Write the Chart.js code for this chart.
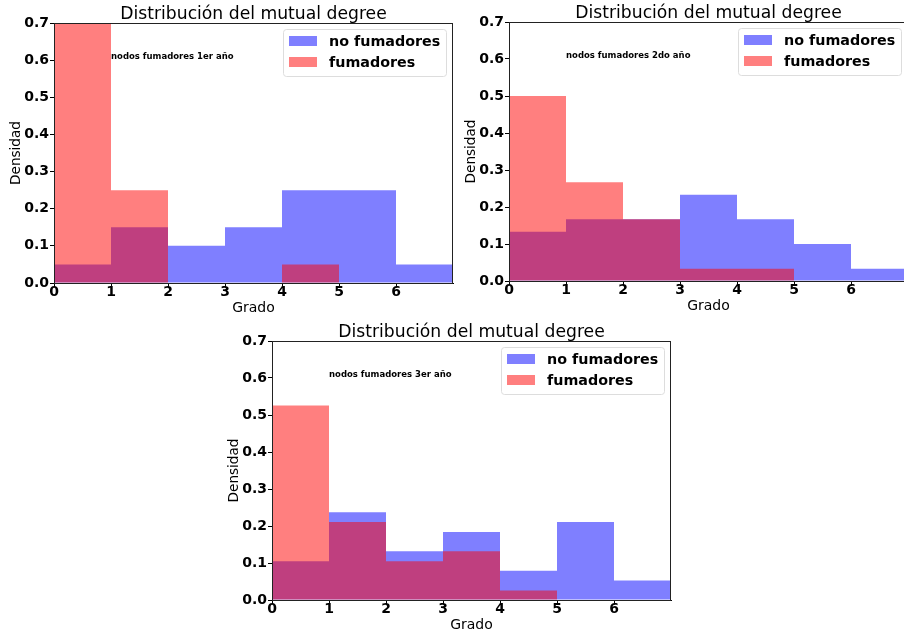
<!DOCTYPE html>
<html>
<head>
<meta charset="utf-8">
<title>Distribución del mutual degree</title>
<script src="https://cdn.jsdelivr.net/npm/chart.js"></script>
<style>
  body { margin: 0; background: #fff; overflow: hidden; width: 904px; height: 634px; position: relative; }
  canvas { position: absolute; }
  #c1 { left: 0; top: 0; }
  #c2 { left: 455px; top: 0; }
  #c3 { left: 218px; top: 318px; }
</style>
</head>
<body>
<canvas id="c1" width="460" height="318"></canvas>
<canvas id="c2" width="460" height="318"></canvas>
<canvas id="c3" width="460" height="316"></canvas>

<script>
// bins de grado (0-1, 1-2, ... 6-7)
const bins = ['0', '1', '2', '3', '4', '5', '6'];

// 1er año
const noFum1 = [0.05, 0.15, 0.10, 0.15, 0.25, 0.25, 0.05];
const fum1   = [0.70, 0.25, 0, 0, 0.05, 0, 0];
// 2do año
const noFum2 = [0.133, 0.167, 0.167, 0.233, 0.167, 0.10, 0.033];
const fum2   = [0.50, 0.267, 0.167, 0.033, 0.033, 0, 0];
// 3er año
const noFum3 = [0.105, 0.237, 0.132, 0.184, 0.079, 0.211, 0.053];
const fum3   = [0.526, 0.211, 0.105, 0.132, 0.026, 0, 0];

const title = 'Distribución del mutual degree';
const notes = ['nodos fumadores 1er año', 'nodos fumadores 2do año', 'nodos fumadores 3er año'];

Chart.defaults.font.family = 'DejaVu Sans';
Chart.defaults.color = '#000';

// titulo, etiquetas de ejes, marco, leyenda y nota dibujados a mano
const extras = {
  id: 'extras',
  afterDraw(chart, args, opts) {
    const ctx = chart.ctx;
    const a = chart.chartArea;
    ctx.save();
    // marco
    ctx.strokeStyle = '#222';
    ctx.lineWidth = 1;
    ctx.strokeRect(a.left + 0.5, a.top + 0.5, a.right - a.left - 1, a.bottom - a.top);

    // titulo
    ctx.fillStyle = '#000';
    ctx.font = '17.2px "DejaVu Sans"';
    ctx.textAlign = 'center';
    ctx.textBaseline = 'alphabetic';
    ctx.fillText(title, (a.left + a.right) / 2, a.top - 4);

    // ejes
    ctx.font = '14px "DejaVu Sans"';
    ctx.textBaseline = 'middle';
    ctx.fillText('Grado', (a.left + a.right) / 2, a.bottom + 25);
    ctx.save();
    ctx.translate(16, (a.top + a.bottom) / 2);
    ctx.rotate(-Math.PI / 2);
    ctx.font = '13.6px "DejaVu Sans"';
    ctx.fillText('Densidad', 0, 0);
    ctx.restore();

    // nota
    const xs = chart.scales.x2, ys = chart.scales.y;
    ctx.font = 'bold 8.5px "DejaVu Sans"';
    ctx.textAlign = 'left';
    ctx.fillText(opts.note, xs.getPixelForValue(1), ys.getPixelForValue(0.61));

    // leyenda
    const bw = 163, bh = 47;
    const bx = a.right - 7 - bw, by = a.top + 6;
    ctx.fillStyle = 'rgba(255,255,255,0.8)';
    ctx.strokeStyle = '#ddd';
    ctx.beginPath();
    ctx.roundRect(bx + 0.5, by + 0.5, bw, bh, 3);
    ctx.fill();
    ctx.stroke();
    ctx.font = 'bold 14.3px "DejaVu Sans"';
    chart.data.datasets.forEach((ds, i) => {
      const cy = by + 12 + i * 21;
      ctx.fillStyle = ds.backgroundColor;
      ctx.fillRect(bx + 6, cy - 5, 28, 10);
      ctx.fillStyle = '#000';
      ctx.fillText(ds.label, bx + 46, cy + 1);
    });
    ctx.restore();
  }
};

function makeChart(id, noFum, fum, note, padTop, padRight, xAxisH) {
  return new Chart(document.getElementById(id), {
    type: 'bar',
    data: {
      labels: bins,
      datasets: [
        { label: 'no fumadores', data: noFum, backgroundColor: 'rgba(0,0,255,0.5)', order: 1,
          grouped: false, barPercentage: 1, categoryPercentage: 1, borderWidth: 0, inflateAmount: 0 },
        { label: 'fumadores', data: fum, backgroundColor: 'rgba(255,0,0,0.5)', order: 0,
          grouped: false, barPercentage: 1, categoryPercentage: 1, borderWidth: 0, inflateAmount: 0 }
      ]
    },
    options: {
      responsive: false,
      animation: false,
      layout: { padding: { top: padTop, right: padRight, left: 0, bottom: 0 } },
      plugins: {
        legend: { display: false },
        tooltip: { enabled: false },
        extras: { note: note }
      },
      scales: {
        x: { display: false },
        x2: {
          type: 'linear', position: 'bottom', min: 0, max: 7, offset: false,
          afterBuildTicks: s => { s.ticks = s.ticks.filter(t => t.value < 7); },
          afterFit: s => { s.height = xAxisH; },
          ticks: { stepSize: 1, padding: -3, font: { size: 14, weight: 'bold' }, maxRotation: 0 },
          grid: { offset: false, drawOnChartArea: false, tickLength: 4, color: '#000' },
          border: { color: '#000' }
        },
        y: {
          min: 0, max: 0.7,
          afterFit: s => { s.width = 54; },
          ticks: { stepSize: 0.1, padding: 1, font: { size: 14, weight: 'bold' },
                   callback: v => v.toFixed(1) },
          grid: { drawOnChartArea: false, tickLength: 4, color: '#000' },
          border: { color: '#000' }
        }
      }
    },
    plugins: [extras]
  });
}

makeChart('c1', noFum1, fum1, notes[0], 23, 7, 35);
makeChart('c2', noFum2, fum2, notes[1], 22, 7, 37);
makeChart('c3', noFum3, fum3, notes[2], 23, 7, 34);
</script>
</body>
</html>
